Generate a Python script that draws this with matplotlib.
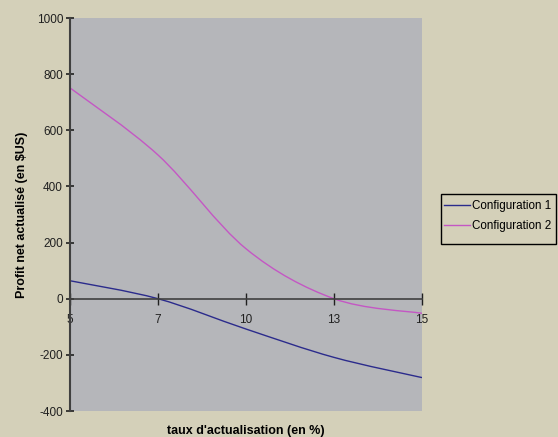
import numpy as np
import matplotlib
matplotlib.use('Agg')
import matplotlib.pyplot as plt
from matplotlib.path import Path
from matplotlib.patches import PathPatch, Rectangle
from matplotlib.lines import Line2D

plt.rcParams['font.family'] = ['Liberation Sans', 'DejaVu Sans']
plt.rcParams['axes.unicode_minus'] = False

# data (values at each category)
taux = ['5', '7', '10', '13', '15']
config1 = [64, 0, -108, -209, -281]
config2 = [751, 512, 178, 0, -52]
series_names = ['Configuration 1', 'Configuration 2']
series_colors = ['#2B2B8C', '#C457C4']


# smoothed line the way Excel draws it: Bezier through the points
def smooth_path(xs, ys):
    pts = np.column_stack([xs, ys]).astype(float)
    n = len(pts)
    verts = [pts[0]]
    codes = [Path.MOVETO]
    for i in range(n - 1):
        p_prev = pts[i - 1] if i > 0 else pts[i]
        p_next = pts[i + 2] if i + 2 < n else pts[i + 1]
        c1 = pts[i] + (pts[i + 1] - p_prev) / 6.0
        c2 = pts[i + 1] - (p_next - pts[i]) / 6.0
        verts += [c1, c2, pts[i + 1]]
        codes += [Path.CURVE4] * 3
    return Path(verts, codes)


fig = plt.figure(figsize=(5.58, 4.37), dpi=100, facecolor='#D4D0B9')
ax = fig.add_axes([70 / 558, 1 - 411 / 437, 352 / 558, 393 / 437])
ax.set_facecolor('#B5B6BA')

xpos = np.arange(len(taux))
handles = []
for vals, name, col in zip([config1, config2], series_names, series_colors):
    patch = PathPatch(smooth_path(xpos, vals), fill=False, edgecolor=col, lw=1.0)
    ax.add_patch(patch)
    handles.append(Line2D([], [], color=col, lw=1.0, label=name))

ax.set_xlim(0, len(taux) - 1)
ax.set_ylim(-400, 1000)
ax.set_yticks(np.arange(-400, 1001, 200))
ax.set_xticks(xpos)
ax.set_xticklabels(taux)

# x axis crosses at zero
for s in ['top', 'right']:
    ax.spines[s].set_visible(False)
ax.spines['bottom'].set_position(('data', 0))
ax.spines['bottom'].set_color('#404040')
ax.spines['bottom'].set_linewidth(1.2)
ax.spines['left'].set_color('#404040')
ax.spines['left'].set_linewidth(1.5)

ax.tick_params(axis='x', direction='inout', length=8, width=1, color='#202020',
               labelsize=8.5, pad=7, labelcolor='#202020')
ax.tick_params(axis='y', direction='inout', length=6, width=1.2, color='#202020',
               labelsize=8.5, pad=2, labelcolor='#202020')

ax.set_ylabel('Profit net actualisé (en $US)', fontsize=9, fontweight='bold',
              labelpad=6)
fig.text(246 / 558, 1 - 431 / 437, "taux d'actualisation (en %)", fontsize=9,
         fontweight='bold', ha='center', va='center')

# legend box drawn separately so it fits the right edge like the original
fig.patches.append(Rectangle((441 / 558, 1 - 244 / 437), 115 / 558, 50 / 437,
                             transform=fig.transFigure, fill=False,
                             edgecolor='black', lw=1.0))
leg = fig.legend(handles=handles, loc='upper left', bbox_to_anchor=(442 / 558, 1 - 198 / 437),
                 prop={'size': 8.4}, frameon=False, handlelength=2.2,
                 handletextpad=0.2, borderpad=0.2, labelspacing=0.7, borderaxespad=0,
                 handleheight=0.7)

fig.savefig('out.png', dpi=100, facecolor=fig.get_facecolor())
